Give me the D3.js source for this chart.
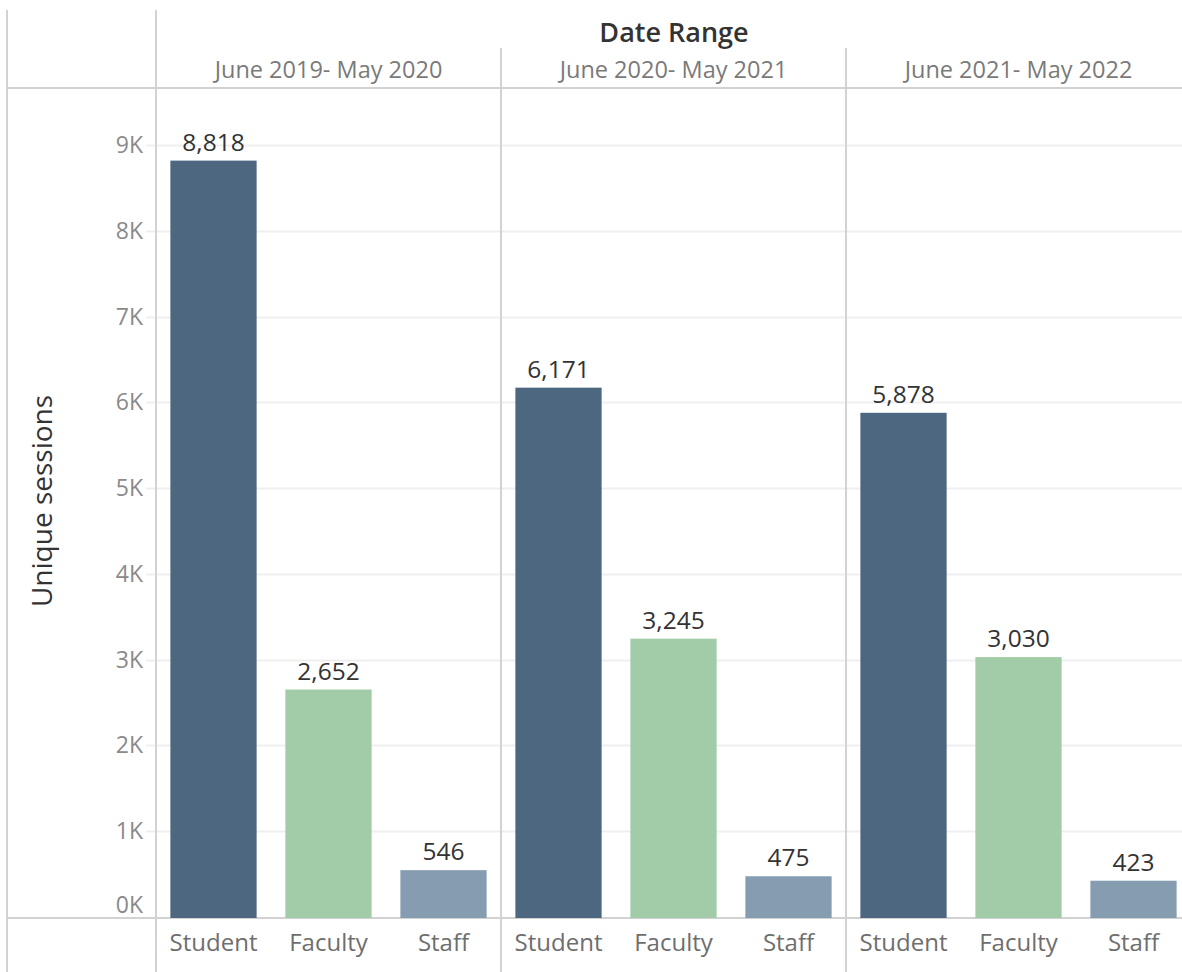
<!DOCTYPE html>
<html>
<head>
<meta charset="utf-8">
<script src="https://cdn.jsdelivr.net/npm/d3@7"></script>
<style>
  body { margin: 0; background: #fff; }
  text { font-family: "Open Sans", Lato, sans-serif; }
</style>
</head>
<body>
<script>
// data
var periods = ["June 2019- May 2020", "June 2020- May 2021", "June 2021- May 2022"];
var roles = ["Student", "Faculty", "Staff"];
var student = [8818, 6171, 5878];
var faculty = [2652, 3245, 3030];
var staff = [546, 475, 423];
var yTicks = [0, 1000, 2000, 3000, 4000, 5000, 6000, 7000, 8000, 9000];

var colors = { Student: "#4e6780", Faculty: "#a2cca7", Staff: "#869cb1" };

var width = 1182, height = 972;
var plotLeft = 156, headerBottom = 88, plotBottom = 918;
var panelW = 345;

var svg = d3.select("body").append("svg")
    .attr("width", width)
    .attr("height", height);

var x0 = d3.scaleBand()
    .domain(periods)
    .range([plotLeft, plotLeft + panelW * periods.length]);

var x1 = d3.scaleBand()
    .domain(roles)
    .range([0, panelW])
    .paddingInner(0.25)
    .paddingOuter(0.125);

var y = d3.scaleLinear()
    .domain([0, 9000])
    .range([plotBottom - 1, 145]);

var rows = [];
periods.forEach(function(p, i) {
  rows.push({ period: p, role: "Student", value: student[i] });
  rows.push({ period: p, role: "Faculty", value: faculty[i] });
  rows.push({ period: p, role: "Staff", value: staff[i] });
});

// gridlines
svg.append("g")
  .selectAll("line")
  .data(yTicks.slice(1))
  .enter().append("line")
    .attr("x1", plotLeft - 10)
    .attr("x2", width)
    .attr("y1", function(d) { return Math.round(y(d)) + 0.5; })
    .attr("y2", function(d) { return Math.round(y(d)) + 0.5; })
    .attr("stroke", "#efefef")
    .attr("stroke-width", 2);

// frame lines
var frame = svg.append("g").attr("stroke", "#d2d2d2").attr("stroke-width", 2);
frame.append("line").attr("x1", 7).attr("x2", 7).attr("y1", 10).attr("y2", height);
frame.append("line").attr("x1", plotLeft).attr("x2", plotLeft).attr("y1", 10).attr("y2", height);
frame.append("line").attr("x1", 7).attr("x2", width).attr("y1", headerBottom).attr("y2", headerBottom);
frame.append("line").attr("x1", 7).attr("x2", width).attr("y1", plotBottom).attr("y2", plotBottom);
frame.selectAll(".div")
  .data(periods.slice(1))
  .enter().append("line")
    .attr("class", "div")
    .attr("x1", function(d) { return x0(d); })
    .attr("x2", function(d) { return x0(d); })
    .attr("y1", 48)
    .attr("y2", height);

// y axis labels
svg.append("g")
  .selectAll("text")
  .data(yTicks)
  .enter().append("text")
    .attr("x", plotLeft - 13)
    .attr("y", function(d) { return d === 0 ? y(d) - 12 : y(d); })
    .attr("dy", "0.35em")
    .attr("text-anchor", "end")
    .attr("font-size", "23px")
    .attr("fill", "#8a8a8a")
    .text(function(d) { return (d / 1000) + "K"; });

svg.append("text")
    .attr("transform", "translate(52,501) rotate(-90)")
    .attr("text-anchor", "middle")
    .attr("font-size", "28px")
    .attr("fill", "#333")
    .text("Unique sessions");

// header
svg.append("text")
    .attr("x", 674)
    .attr("y", 42)
    .attr("text-anchor", "middle")
    .attr("font-size", "27px")
    .attr("font-weight", "600")
    .attr("fill", "#333")
    .text("Date Range");

svg.append("g")
  .selectAll("text")
  .data(periods)
  .enter().append("text")
    .attr("x", function(d) { return x0(d) + panelW / 2; })
    .attr("y", 78)
    .attr("text-anchor", "middle")
    .attr("font-size", "23.5px")
    .attr("fill", "#7a7a7a")
    .text(function(d) { return d; });

// panels with bars
var panel = svg.selectAll(".panel")
  .data(periods)
  .enter().append("g")
    .attr("class", "panel")
    .attr("transform", function(d) { return "translate(" + x0(d) + ",0)"; });

panel.selectAll("rect")
  .data(function(p) { return rows.filter(function(r) { return r.period === p; }); })
  .enter().append("rect")
    .attr("x", function(d) { return x1(d.role); })
    .attr("y", function(d) { return y(d.value); })
    .attr("width", x1.bandwidth())
    .attr("height", function(d) { return plotBottom - y(d.value); })
    .attr("fill", function(d) { return colors[d.role]; });

panel.selectAll(".val")
  .data(function(p) { return rows.filter(function(r) { return r.period === p; }); })
  .enter().append("text")
    .attr("class", "val")
    .attr("x", function(d) { return x1(d.role) + x1.bandwidth() / 2; })
    .attr("y", function(d) { return y(d.value) - 10; })
    .attr("text-anchor", "middle")
    .attr("font-size", "24.5px")
    .attr("fill", "#333")
    .text(function(d) { return d3.format(",")(d.value); });

panel.selectAll(".cat")
  .data(roles)
  .enter().append("text")
    .attr("class", "cat")
    .attr("x", function(d) { return x1(d) + x1.bandwidth() / 2; })
    .attr("y", 951)
    .attr("text-anchor", "middle")
    .attr("font-size", "24px")
    .attr("fill", "#6e6e6e")
    .text(function(d) { return d; });
</script>
</body>
</html>
